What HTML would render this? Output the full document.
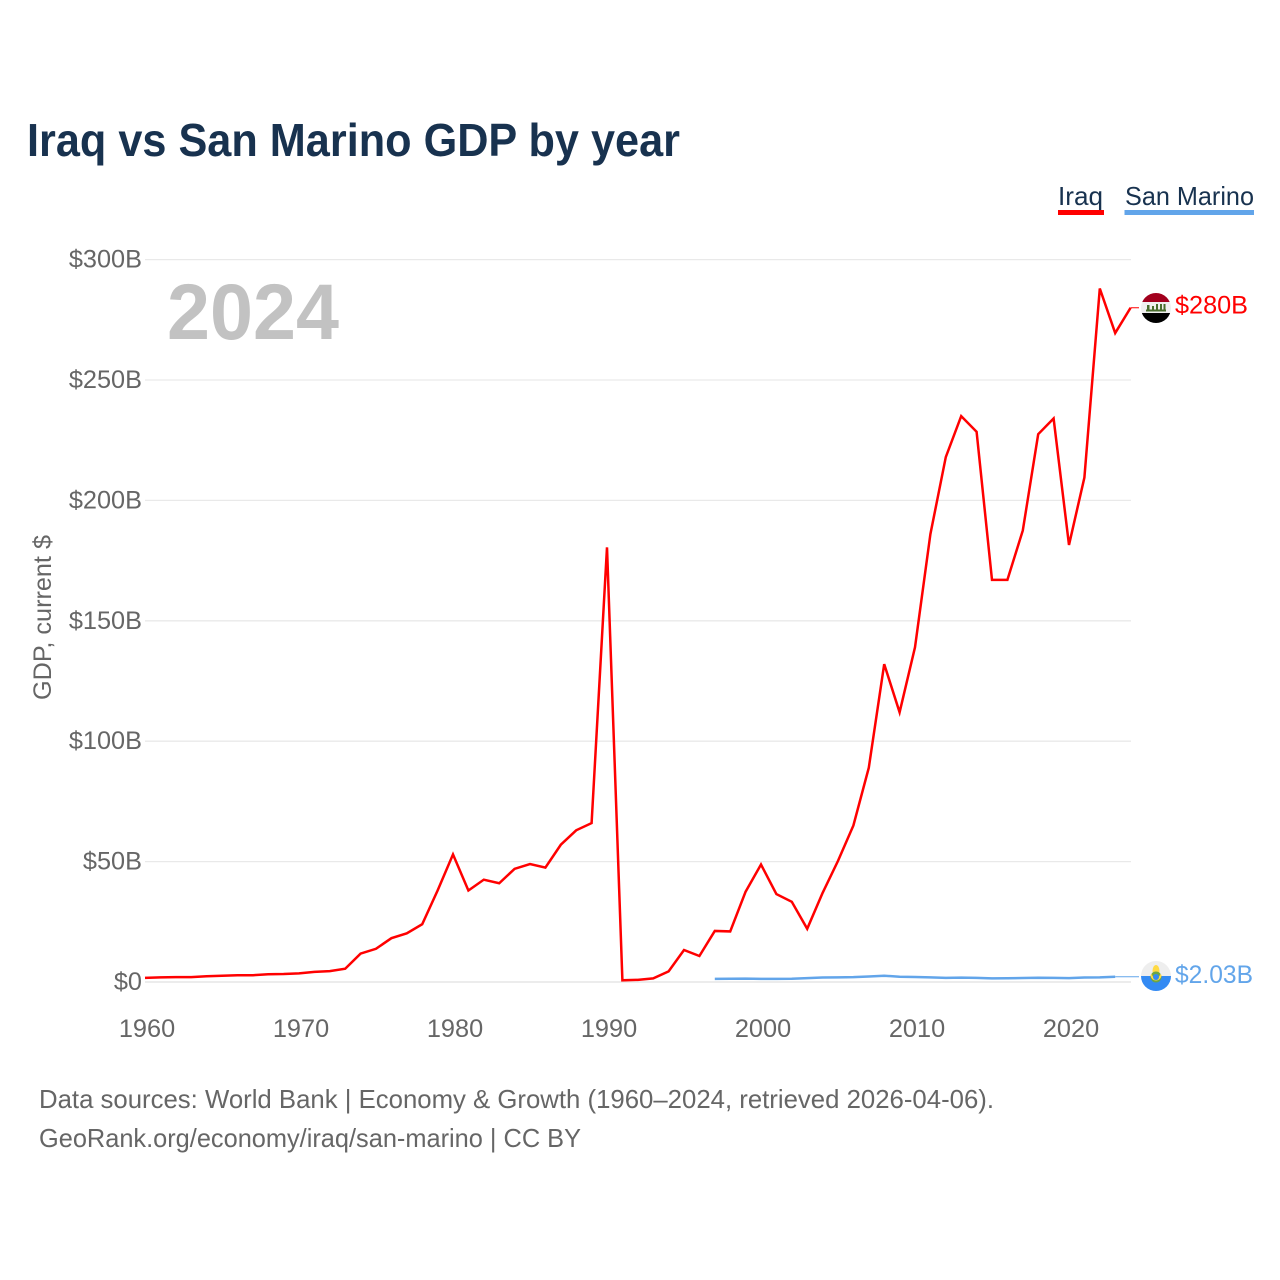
<!DOCTYPE html>
<html lang="en">
<head>
<meta charset="utf-8">
<title>Iraq vs San Marino GDP by year</title>
<style>
html,body{margin:0;padding:0;background:#fff;}
svg{display:block;font-family:"Liberation Sans",sans-serif;}
</style>
</head>
<body>
<svg id="chart" width="1280" height="1280" viewBox="0 0 1280 1280" xmlns="http://www.w3.org/2000/svg">
  <defs>
    <clipPath id="flag-clip-iraq"><circle cx="1156" cy="308" r="15"/></clipPath>
    <clipPath id="flag-clip-sm"><circle cx="1156" cy="976" r="15"/></clipPath>
  </defs>
  <rect width="1280" height="1280" fill="#fff"/>
  <text x="27" y="156" font-size="46" font-weight="700" fill="#18324f" textLength="653" lengthAdjust="spacingAndGlyphs">Iraq vs San Marino GDP by year</text>

  <g>
    <g>
      <text x="1058" y="205" font-size="26" fill="#18324f" textLength="45" lengthAdjust="spacingAndGlyphs">Iraq</text>
      <rect x="1058" y="210" width="46" height="5" fill="#ff0000"/>
    </g>
    <g>
      <text x="1125" y="205" font-size="26" fill="#18324f" textLength="129" lengthAdjust="spacingAndGlyphs">San Marino</text>
      <rect x="1124.500" y="210" width="129.500" height="5" fill="#62a5ea"/>
    </g>
  </g>

  <g id="grid"></g>
  <g id="y-axis"></g>
  <g id="x-axis"></g>

  <text transform="translate(51,700) rotate(-90)" x="0" y="0" font-size="25" fill="#666" textLength="165" lengthAdjust="spacingAndGlyphs">GDP, current $</text>
  <text x="167" y="339" font-size="79" font-weight="700" fill="#c2c2c2" textLength="172" lengthAdjust="spacingAndGlyphs">2024</text>

  <g id="series"></g>

  <g clip-path="url(#flag-clip-iraq)">
    <rect x="1141" y="293" width="30" height="9" fill="#a2001d"/>
    <rect x="1141" y="302" width="30" height="11" fill="#f0f0f0"/>
    <rect x="1141" y="313" width="30" height="10" fill="#000"/>
    <rect x="1146" y="309.500" width="20" height="2" fill="#496e2d"/>
    <rect x="1147" y="305" width="2.500" height="6" fill="#496e2d"/>
    <rect x="1152" y="306" width="2" height="5" fill="#496e2d"/>
    <rect x="1156" y="304" width="2" height="7" fill="#496e2d"/>
    <rect x="1160" y="304" width="2" height="7" fill="#496e2d"/>
    <rect x="1163.500" y="304" width="2" height="7" fill="#496e2d"/>
  </g>
  <g clip-path="url(#flag-clip-sm)">
    <rect x="1141" y="961" width="30" height="15" fill="#eeeeee"/>
    <rect x="1141" y="976" width="30" height="15" fill="#338af3"/>
    <ellipse cx="1156" cy="971" rx="3.500" ry="6" fill="#ffda44"/>
    <circle cx="1156" cy="977" r="5.500" fill="#6da544"/>
    <path d="M1150.500 975a5.500 5.500 0 0 0 11 0l-1.500-1a4 4 0 0 1-8 0z" fill="#ffda44"/>
    <circle cx="1156" cy="977" r="3" fill="#338af3"/>
  </g>
  <text x="1175" y="313.500" font-size="25" fill="#ff0000" textLength="73" lengthAdjust="spacingAndGlyphs">$280B</text>
  <text x="1175" y="983" font-size="25" fill="#62a5ea" textLength="78" lengthAdjust="spacingAndGlyphs">$2.03B</text>

  <g>
    <text x="39" y="1108" font-size="26" fill="#666" textLength="955" lengthAdjust="spacingAndGlyphs">Data sources: World Bank | Economy &amp; Growth (1960–2024, retrieved 2026-04-06).</text>
    <text x="39" y="1147" font-size="26" fill="#666" textLength="542" lengthAdjust="spacingAndGlyphs">GeoRank.org/economy/iraq/san-marino | CC BY</text>
  </g>
</svg>
<script>
const yTicks = [0, 50, 100, 150, 200, 250, 300];
const yTickLabels = ["$0", "$50B", "$100B", "$150B", "$200B", "$250B", "$300B"];
const xTicks = [1960, 1970, 1980, 1990, 2000, 2010, 2020];
const xTickLabels = ["1960", "1970", "1980", "1990", "2000", "2010", "2020"];
const iraqStartYear = 1960;
const iraqGdp = [1.7, 1.9, 2.0, 2.0, 2.4, 2.6, 2.8, 2.8, 3.2, 3.3, 3.6, 4.2, 4.5, 5.5, 11.8, 13.8, 18.2, 20.2, 24, 38, 53, 38, 42.5, 41, 47, 49, 47.5, 57, 63, 66, 180.5, 0.7, 0.9, 1.5, 4.4, 13.3, 10.8, 21.2, 21, 37.5, 48.8, 36.5, 33.3, 22.1, 37, 50.3, 65, 89, 132, 112, 139, 186, 218, 235, 228.5, 167, 167, 187.5, 227.5, 234, 181.5, 209.5, 288, 269.5, 280];
const sanMarinoStartYear = 1997;
const sanMarinoGdp = [1.3, 1.35, 1.4, 1.3, 1.3, 1.35, 1.6, 1.85, 1.9, 2.0, 2.3, 2.6, 2.2, 2.05, 1.9, 1.7, 1.8, 1.7, 1.5, 1.55, 1.65, 1.75, 1.7, 1.6, 1.85, 1.9, 2.2];
const iraqLatest = 280;
const sanMarinoLatest = 2.2;

const NS = 'http://www.w3.org/2000/svg';
const xScale = function (year) { return 145 + 15.4 * (year - 1960); };
const yScale = function (v) { return 982 - 2.408 * v; };

const gridGroup = document.getElementById('grid');
const yAxisGroup = document.getElementById('y-axis');
const xAxisGroup = document.getElementById('x-axis');
const seriesGroup = document.getElementById('series');

yTicks.forEach(function (t, i) {
  const line = document.createElementNS(NS, 'line');
  
  
  line.setAttribute('x1', 145);
  line.setAttribute('x2', 1131);
  line.setAttribute('y1', yScale(t));
  line.setAttribute('y2', yScale(t));
  line.setAttribute('stroke', '#e9e9e9');
  line.setAttribute('stroke-width', t === 0 ? 1.8 : 1.3);
  gridGroup.appendChild(line);

  const label = document.createElementNS(NS, 'text');
  
  
  label.setAttribute('x', 142);
  label.setAttribute('y', yScale(t) + 8);
  label.setAttribute('text-anchor', 'end');
  label.setAttribute('font-size', 25.3);
  label.setAttribute('fill', '#666');
  label.textContent = yTickLabels[i];
  yAxisGroup.appendChild(label);
});

xTicks.forEach(function (t, i) {
  const label = document.createElementNS(NS, 'text');
  
  
  label.setAttribute('x', xScale(t) + 2);
  label.setAttribute('y', 1037);
  label.setAttribute('text-anchor', 'middle');
  label.setAttribute('font-size', 25.3);
  label.setAttribute('fill', '#666');
  label.textContent = xTickLabels[i];
  xAxisGroup.appendChild(label);
});

function toPoints(values, startYear) {
  return values.map(function (v, i) {
    return xScale(startYear + i).toFixed(2) + ',' + yScale(v).toFixed(2);
  }).join(' ');
}

const sanMarinoLine = document.createElementNS(NS, 'polyline');


sanMarinoLine.setAttribute('points', toPoints(sanMarinoGdp, sanMarinoStartYear));
sanMarinoLine.setAttribute('fill', 'none');
sanMarinoLine.setAttribute('stroke', '#62a5ea');
sanMarinoLine.setAttribute('stroke-width', 2.5);
seriesGroup.appendChild(sanMarinoLine);

const sanMarinoConnector = document.createElementNS(NS, 'line');


sanMarinoConnector.setAttribute('x1', xScale(sanMarinoStartYear + sanMarinoGdp.length - 1));
sanMarinoConnector.setAttribute('x2', 1139);
sanMarinoConnector.setAttribute('y1', yScale(sanMarinoLatest));
sanMarinoConnector.setAttribute('y2', yScale(sanMarinoLatest));
sanMarinoConnector.setAttribute('stroke', '#62a5ea');
sanMarinoConnector.setAttribute('stroke-width', 1);
seriesGroup.appendChild(sanMarinoConnector);

const iraqLine = document.createElementNS(NS, 'polyline');


iraqLine.setAttribute('points', toPoints(iraqGdp, iraqStartYear));
iraqLine.setAttribute('fill', 'none');
iraqLine.setAttribute('stroke', '#ff0000');
iraqLine.setAttribute('stroke-width', 2.5);
iraqLine.setAttribute('stroke-linejoin', 'miter');
seriesGroup.appendChild(iraqLine);

const iraqConnector = document.createElementNS(NS, 'line');


iraqConnector.setAttribute('x1', xScale(iraqStartYear + iraqGdp.length - 1));
iraqConnector.setAttribute('x2', 1139);
iraqConnector.setAttribute('y1', yScale(iraqLatest));
iraqConnector.setAttribute('y2', yScale(iraqLatest));
iraqConnector.setAttribute('stroke', '#ff0000');
iraqConnector.setAttribute('stroke-width', 1);
seriesGroup.appendChild(iraqConnector);
</script>
</body>
</html>
